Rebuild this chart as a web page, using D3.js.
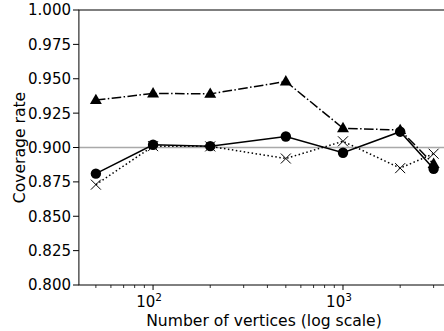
<!DOCTYPE html>
<html><head><meta charset="utf-8">
<script src="https://cdn.jsdelivr.net/npm/d3@7"></script>
<style>body{margin:0;background:#fff}svg{display:block}text{font-family:"DejaVu Sans",sans-serif;fill:#000}</style>
</head><body><svg id="c" width="444" height="331"></svg>
<script>
const vertices = [50, 100, 200, 500, 1000, 2000, 3000];
const triangleSeries = [0.9345, 0.9393, 0.9390, 0.9480, 0.9140, 0.9127, 0.8880];
const circleSeries   = [0.8810, 0.9020, 0.9010, 0.9080, 0.8962, 0.9115, 0.8845];
const crossSeries    = [0.8730, 0.9010, 0.9008, 0.8920, 0.9045, 0.8850, 0.8955];
const yTicks = [0.800, 0.825, 0.850, 0.875, 0.900, 0.925, 0.950, 0.975, 1.000];
const xMajor = [100, 1000];
const nominal = 0.9;

const svg = d3.select("#c");
const x = d3.scaleLog().domain([40.7, 3681]).range([78.9, 450.5]);
const y = d3.scaleLinear().domain([0.8, 1.0]).range([285, 10]);
const fs = 15;

// reference line
svg.append("line").attr("x1", x.range()[0]).attr("x2", x.range()[1])
  .attr("y1", y(nominal)).attr("y2", y(nominal))
  .attr("stroke", "#a9a9a9").attr("stroke-width", 1.3);

// minor ticks
const minor = [];
for (const dec of [10, 100, 1000]) for (let k = 2; k <= 9; k++) {
  const v = k * dec; if (v >= x.domain()[0] && v <= x.domain()[1]) minor.push(v);
}
svg.append("g").selectAll("line").data(minor).join("line")
  .attr("x1", d => x(d)).attr("x2", d => x(d)).attr("y1", 285).attr("y2", 288)
  .attr("stroke", "#000").attr("stroke-width", 0.8);
svg.append("g").selectAll("line").data(xMajor).join("line")
  .attr("x1", d => x(d)).attr("x2", d => x(d)).attr("y1", 285).attr("y2", 290)
  .attr("stroke", "#000").attr("stroke-width", 1);
const xl = svg.append("g").selectAll("text").data(xMajor).join("text")
  .attr("x", d => x(d) - 4).attr("y", 307).attr("text-anchor", "middle").attr("font-size", fs);
xl.append("tspan").text("10");
xl.append("tspan").attr("dy", -6).attr("font-size", fs * 0.7).text(d => Math.round(Math.log10(d)));

// y ticks
svg.append("g").selectAll("line").data(yTicks).join("line")
  .attr("x1", 73).attr("x2", 78.9).attr("y1", d => y(d)).attr("y2", d => y(d))
  .attr("stroke", "#000").attr("stroke-width", 1);
svg.append("g").selectAll("text").data(yTicks).join("text")
  .attr("x", 71).attr("y", d => y(d)).attr("dy", "0.36em").attr("text-anchor", "end")
  .attr("font-size", fs).text(d => d3.format(".3f")(d));

// spines
svg.append("rect").attr("x", x.range()[0]).attr("y", 10)
  .attr("width", x.range()[1] - x.range()[0]).attr("height", 275)
  .attr("fill", "none").attr("stroke", "#000").attr("stroke-width", 1);

// axis labels
svg.append("text").attr("x", 264).attr("y", 326).attr("text-anchor", "middle")
  .attr("font-size", fs + 0.6).text("Number of vertices (log scale)");
svg.append("text").attr("transform", "translate(25,147.5) rotate(-90)").attr("text-anchor", "middle")
  .attr("font-size", fs + 0.6).text("Coverage rate");

const line = d3.line().x((d, i) => x(vertices[i])).y(d => y(d));
function series(vals, dash, marker) {
  svg.append("path").datum(vals).attr("d", line).attr("fill", "none")
    .attr("stroke", "#000").attr("stroke-width", 1.5).attr("stroke-dasharray", dash);
  const g = svg.append("g");
  vals.forEach((v, i) => {
    const cx = x(vertices[i]), cy = y(v);
    if (marker === "circle") g.append("circle").attr("cx", cx).attr("cy", cy).attr("r", 5.2);
    else if (marker === "triangle") g.append("path")
      .attr("d", d3.symbol(d3.symbolTriangle, 62)()).attr("transform", `translate(${cx},${cy + 0.5})`);
    else g.append("path").attr("d", `M${cx-5},${cy-5}L${cx+5},${cy+5}M${cx-5},${cy+5}L${cx+5},${cy-5}`)
      .attr("stroke", "#000").attr("stroke-width", 1).attr("fill", "none");
  });
}
series(triangleSeries, "9.6,2.4,1.5,2.4", "triangle");
series(circleSeries, null, "circle");
series(crossSeries, "1.5,2.5", "cross");
</script></body></html>
